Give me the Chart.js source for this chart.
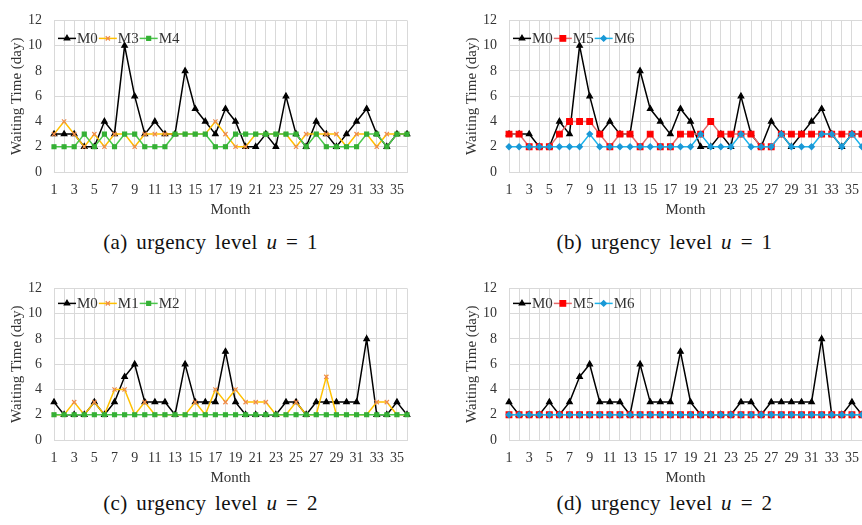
<!DOCTYPE html>
<html lang="en">
<head>
<meta charset="UTF-8" />
<title>Waiting Time by Month</title>
<script src="https://cdn.jsdelivr.net/npm/chart.js"></script>
<style>
  body { margin: 0; background: #fff; width: 862px; height: 525px; overflow: hidden; position: relative; font-family: 'Liberation Serif', 'Times New Roman', serif; }
  .panel { position: absolute; width: 431px; height: 222px; }
  .cap { position: absolute; width: 431px; text-align: center; font-size: 21px; line-height: 24px; color: #111; letter-spacing: 0.4px; word-spacing: 3px; white-space: nowrap; }
</style>
</head>
<body>
  <div class="panel" style="left:0;top:0"><canvas id="ca" width="431" height="222"></canvas></div>
  <div class="panel" style="left:455px;top:0"><canvas id="cb" width="431" height="222"></canvas></div>
  <div class="panel" style="left:0;top:268px"><canvas id="cc" width="431" height="222"></canvas></div>
  <div class="panel" style="left:455px;top:268px"><canvas id="cd" width="431" height="222"></canvas></div>

  <div class="cap" style="left:-5px;top:230px">(a) urgency level <i>u</i> = 1</div>
  <div class="cap" style="left:449px;top:230px">(b) urgency level <i>u</i> = 1</div>
  <div class="cap" style="left:-5px;top:491px">(c) urgency level <i>u</i> = 2</div>
  <div class="cap" style="left:449px;top:491px">(d) urgency level <i>u</i> = 2</div>

<script>
  const months = ['1','2','3','4','5','6','7','8','9','10','11','12','13','14','15','16','17','18',
                  '19','20','21','22','23','24','25','26','27','28','29','30','31','32','33','34','35','36'];

  // urgency level 1
  const m0U1 = [3,3,3,2,2,4,3,10,6,3, 4,3,3,8,5,4,3,5,4,2, 2,3,2,6,3,2,4,3,2,3, 4,5,3,2,3,3];
  const m3U1 = [3,4,3,2,3,2,3,3,2,3, 3,3,3,3,3,3,4,3,2,2, 3,3,3,3,2,3,3,3,3,2, 3,3,2,3,3,3];
  const m4U1 = [2,2,2,3,2,3,2,3,3,2, 2,2,3,3,3,3,2,2,3,3, 3,3,3,3,3,2,3,2,2,2, 2,3,3,2,3,3];
  const m5U1 = [3,3,2,2,2,3,4,4,4,3, 2,3,3,2,3,2,2,3,3,3, 4,3,3,3,3,2,2,3,3,3, 3,3,3,3,3,3];
  const m6U1 = [2,2,2,2,2,2,2,2,3,2, 2,2,2,2,2,2,2,2,2,3, 2,2,2,3,2,2,2,3,2,2, 2,3,3,2,3,2];

  // urgency level 2
  const m0U2 = [3,2,2,2,3,2,3,5,6,3, 3,3,2,6,3,3,3,7,3,2, 2,2,2,3,3,2,3,3,3,3, 3,8,2,2,3,2];
  const m1U2 = [2,2,3,2,3,2,4,4,2,3, 2,2,2,2,3,2,4,3,4,3, 3,3,2,2,3,2,2,5,2,2, 2,2,3,3,2,2];
  const m2U2 = [2,2,2,2,2,2,2,2,2,2, 2,2,2,2,2,2,2,2,2,2, 2,2,2,2,2,2,2,2,2,2, 2,2,2,2,2,2];
  const m5U2 = [2,2,2,2,2,2,2,2,2,2, 2,2,2,2,2,2,2,2,2,2, 2,2,2,2,2,2,2,2,2,2, 2,2,2,2,2,2];
  const m6U2 = [2,2,2,2,2,2,2,2,2,2, 2,2,2,2,2,2,2,2,2,2, 2,2,2,2,2,2,2,2,2,2, 2,2,2,2,2,2];

  const GRID = '#d9d9d9';
  const TXT = '#333333';
  const FONT = "'Liberation Serif', 'Times New Roman', serif";

  const looks = {
    M0: { line: '#000000', mark: '#000000', shape: 'triangle', r: 3.2 },
    M1: { line: '#FFC000', mark: '#EE8A4A', shape: 'crossRot', r: 3 },
    M3: { line: '#FFC000', mark: '#EE8A4A', shape: 'crossRot', r: 3 },
    M2: { line: '#4CC64C', mark: '#35B035', shape: 'rect', r: 2.8 },
    M4: { line: '#4CC64C', mark: '#35B035', shape: 'rect', r: 2.8 },
    M5: { line: '#E46A6A', mark: '#FF0000', shape: 'rect', r: 4 },
    M6: { line: '#1CB2EA', mark: '#1A98D6', shape: 'rectRot', r: 2.8 }
  };

  function series(name, values, order) {
    const l = looks[name];
    return {
      label: name, data: values, order: order,
      borderColor: l.line, borderWidth: 1.5, tension: 0,
      pointStyle: l.shape, pointRadius: l.r,
      pointBackgroundColor: l.mark, pointBorderColor: l.mark, pointBorderWidth: 1.2
    };
  }

  // legend drawn inside the plot, top-left, line + marker + name
  const inLegend = {
    id: 'inLegend',
    afterDraw(chart, args, opts) {
      const { ctx, chartArea } = chart;
      let x = chartArea.left + opts.dx;
      const y = chartArea.top + opts.dy;
      ctx.save();
      ctx.font = '15px ' + FONT;
      ctx.textBaseline = 'middle';
      chart.data.datasets.forEach(ds => {
        ctx.strokeStyle = ds.borderColor;
        ctx.lineWidth = ds.borderWidth;
        ctx.beginPath(); ctx.moveTo(x, y); ctx.lineTo(x + 18, y); ctx.stroke();
        ctx.fillStyle = ds.pointBackgroundColor;
        ctx.strokeStyle = ds.pointBorderColor;
        ctx.lineWidth = ds.pointBorderWidth;
        Chart.helpers.drawPoint(ctx, { pointStyle: ds.pointStyle, radius: ds.pointRadius, borderWidth: ds.pointBorderWidth, rotation: 0 }, x + 9, y);
        ctx.fillStyle = TXT;
        ctx.fillText(ds.label, x + 19, y + 1);
        x += 19 + ctx.measureText(ds.label).width + 1;
      });
      ctx.restore();
    }
  };

  function makeChart(id, sets, legendDy) {
    return new Chart(document.getElementById(id), {
      type: 'line',
      data: { labels: months, datasets: sets },
      options: {
        responsive: false, animation: false, devicePixelRatio: 1,
        layout: { padding: { top: 14, right: 24, left: 0, bottom: 0 } },
        plugins: {
          legend: { display: false }, tooltip: { enabled: false },
          inLegend: { dx: 4, dy: legendDy }
        },
        scales: {
          x: {
            offset: false,
            grid: { color: GRID, lineWidth: 1, drawTicks: false },
            border: { color: GRID },
            ticks: {
              autoSkip: false, maxRotation: 0, padding: 10, color: TXT,
              font: { family: FONT, size: 14 },
              callback: (v, i) => (i % 2 === 0 ? months[i] : '')
            },
            title: { display: true, text: 'Month', color: TXT, font: { family: FONT, size: 15 }, padding: { top: 0, bottom: 3 } },
            afterFit: s => { s.height = 50; }
          },
          y: {
            min: 0, max: 12,
            grid: { color: GRID, lineWidth: 1, drawTicks: false },
            border: { color: GRID },
            ticks: { stepSize: 2, padding: 12, color: TXT, font: { family: FONT, size: 14 } },
            title: { display: true, text: 'Waiting Time (day)', color: TXT, font: { family: FONT, size: 15 }, padding: { top: 8, bottom: 0 } },
            afterFit: s => { s.width = 54; }
          }
        }
      },
      plugins: [inLegend]
    });
  }

  // higher order is drawn first, so M0 sits underneath
  makeChart('ca', [series('M0', m0U1, 3), series('M3', m3U1, 2), series('M4', m4U1, 1)], 18);
  makeChart('cb', [series('M0', m0U1, 3), series('M5', m5U1, 2), series('M6', m6U1, 1)], 18);
  makeChart('cc', [series('M0', m0U2, 3), series('M1', m1U2, 2), series('M2', m2U2, 1)], 15);
  makeChart('cd', [series('M0', m0U2, 3), series('M5', m5U2, 2), series('M6', m6U2, 1)], 15);
</script>
</body>
</html>
